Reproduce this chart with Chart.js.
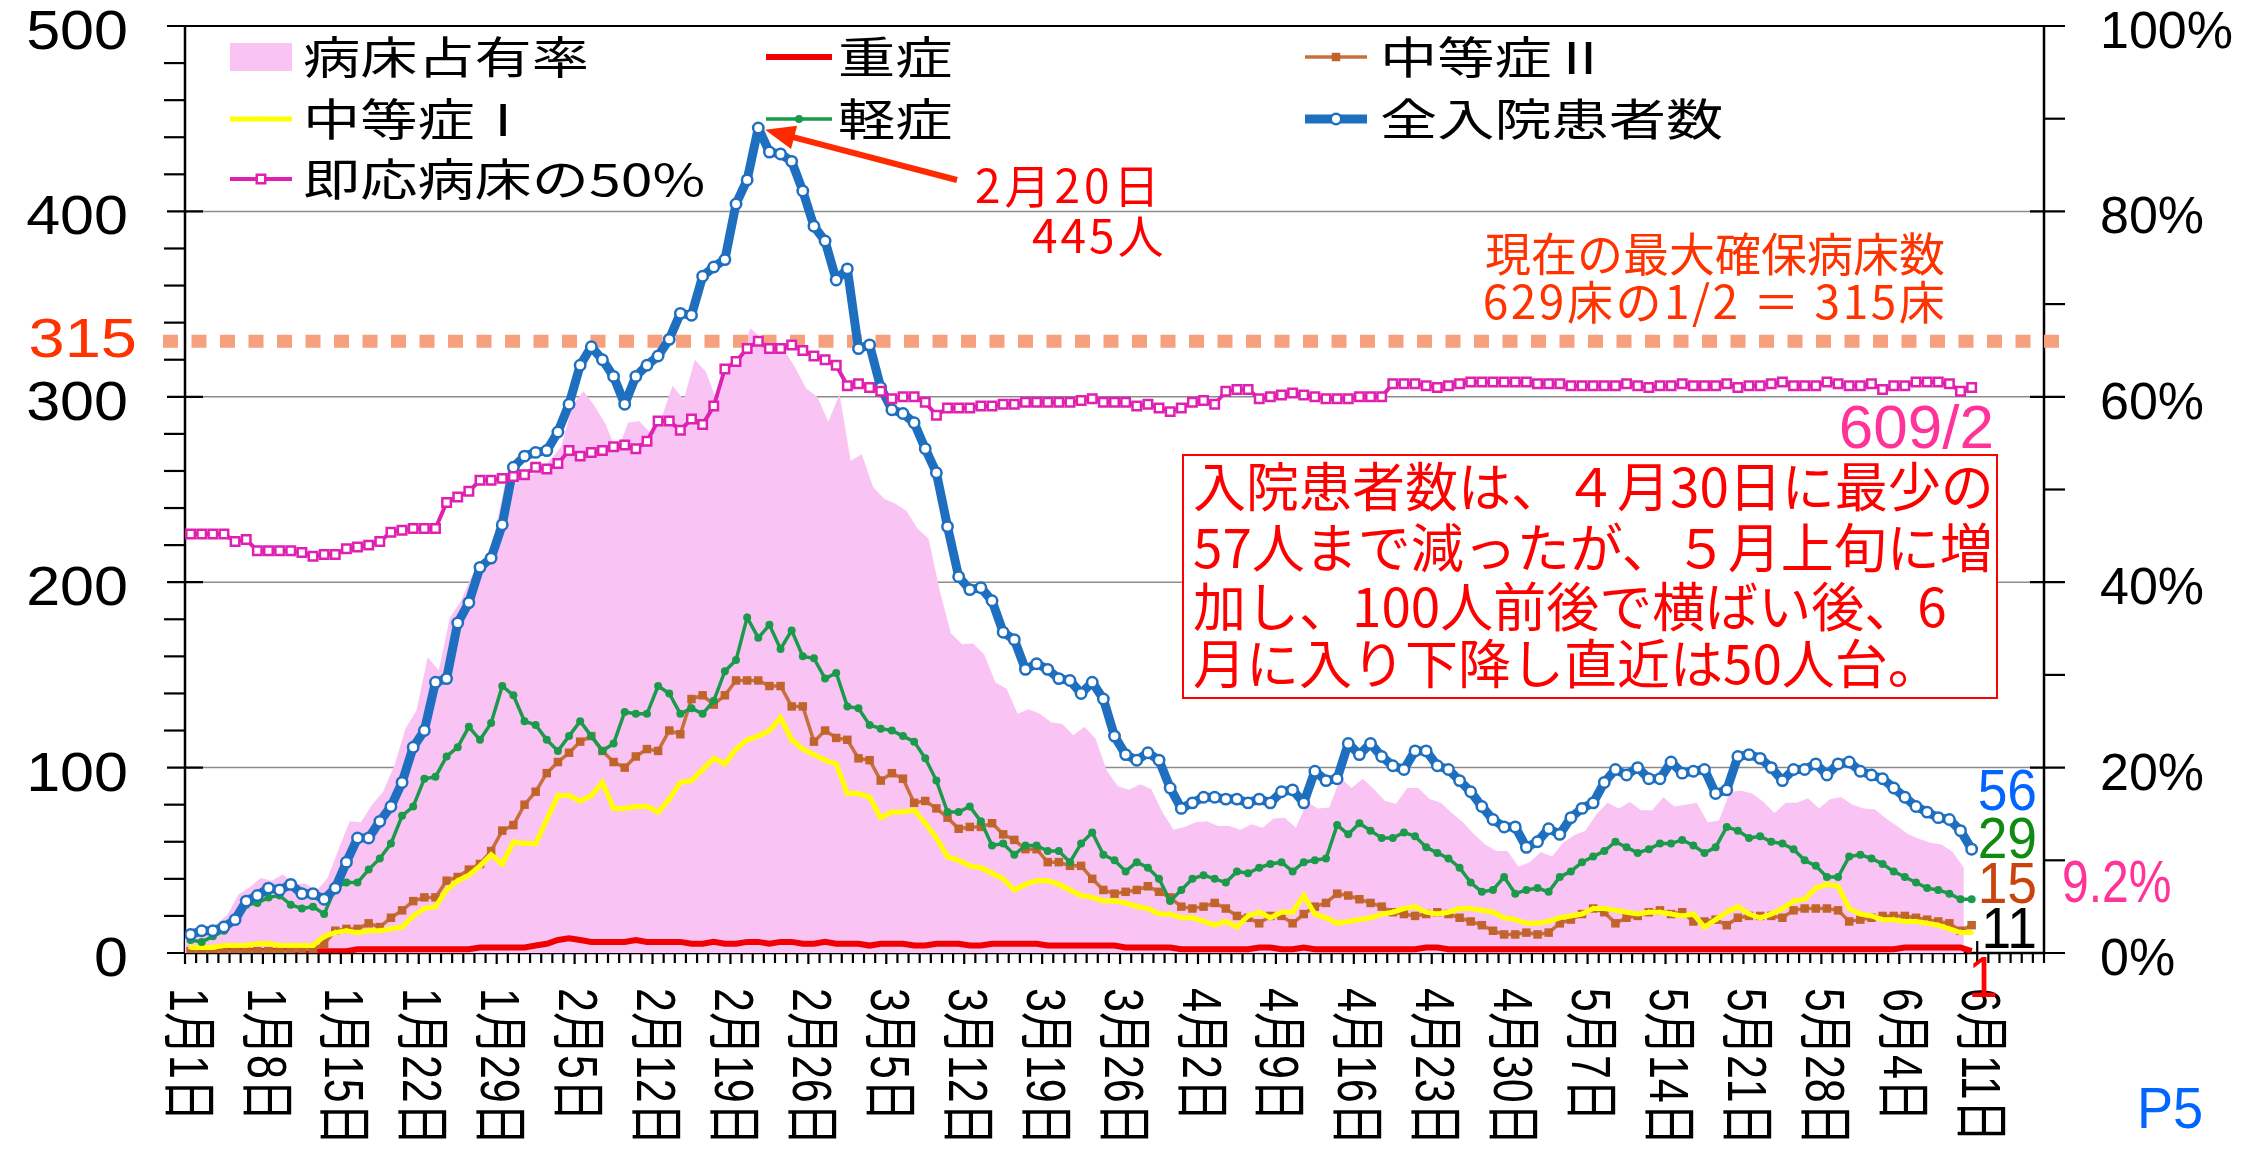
<!DOCTYPE html>
<html>
<head>
<meta charset="utf-8">
<script src="https://cdn.jsdelivr.net/npm/chart.js@4.4.1/dist/chart.umd.min.js"></script>
<style>
  html, body { margin: 0; padding: 0; background: #fff; }
  canvas { display: block; }
</style>
</head>
<body>
<canvas id="chart" width="2241" height="1154"></canvas>
<script>
// Hospitalisation chart, Jan 1 - Jun 11 (one value per day)

const tickLabels = ['1月1日', '1月8日', '1月15日', '1月22日', '1月29日', '2月5日', '2月12日', '2月19日',
  '2月26日', '3月5日', '3月12日', '3月19日', '3月26日', '4月2日', '4月9日', '4月16日', '4月23日',
  '4月30日', '5月7日', '5月14日', '5月21日', '5月28日', '6月4日', '6月11日'];

const seriesNames = ['病床占有率', '重症', '中等症Ⅱ', '中等症Ⅰ', '軽症', '全入院患者数', '即応病床の50%'];

// 病床占有率 (%), right axis
const occupancy = [
  2.2, 2.7, 2.7, 3.1, 4.1, 6.3, 7.1, 8.1, 7.8, 8.5,
  7.4, 7.5, 6.7, 8.1, 11.2, 14.2, 14.1, 16.0, 17.4, 20.2,
  24.2, 26.2, 31.9, 30.5, 36.2, 38.0, 40.8, 41.8, 45.1, 51.0,
  51.9, 51.5, 51.9, 53.2, 54.6, 59.1, 60.6, 59.0, 57.0, 54.0,
  57.2, 57.4, 56.1, 57.7, 61.2, 59.7, 64.0, 62.7, 59.4, 63.3,
  64.0, 67.4, 66.3, 66.1, 65.1, 63.2, 60.9, 60.0, 57.3, 60.3,
  53.1, 53.8, 50.3, 49.0, 48.5, 47.7, 45.8, 44.7, 39.1, 34.5,
  33.3, 33.4, 32.2, 29.2, 28.5, 25.8, 26.3, 25.8, 24.9, 24.7,
  23.5, 24.4, 23.1, 19.7, 18.0, 17.6, 18.2, 17.7, 15.2, 13.3,
  13.6, 14.1, 14.2, 13.7, 13.7, 13.3, 13.9, 13.5, 14.5, 14.6,
  13.5, 16.3, 15.6, 15.7, 18.9, 17.8, 18.8, 17.7, 16.4, 16.1,
  17.8, 17.8, 16.6, 16.2, 15.1, 14.1, 12.8, 11.7, 11.0, 11.0,
  9.3, 9.8, 10.9, 10.4, 11.9, 12.7, 13.2, 15.0, 16.2, 15.6,
  16.3, 15.4, 15.4, 16.8, 15.8, 16.0, 16.2, 14.1, 14.3, 17.4,
  17.5, 17.2, 16.3, 15.1, 16.2, 16.2, 16.7, 15.6, 16.6, 16.8,
  16.0, 15.6, 15.5, 14.5, 13.7, 12.8, 12.3, 11.9, 11.7, 10.9,
  9.2];

// 重症
const severe = [
  1, 1, 1, 1, 1, 1, 1, 1, 1, 1,
  1, 1, 1, 1, 1, 2, 2, 2, 2, 2,
  2, 2, 2, 2, 2, 2, 3, 3, 3, 3,
  3, 4, 5, 7, 8, 7, 6, 6, 6, 6,
  7, 6, 6, 6, 6, 5, 5, 6, 5, 5,
  6, 6, 5, 6, 6, 5, 5, 6, 5, 5,
  5, 4, 5, 5, 5, 4, 4, 5, 5, 5,
  4, 4, 5, 5, 5, 5, 5, 4, 4, 4,
  4, 4, 4, 4, 3, 3, 3, 3, 3, 2,
  2, 2, 2, 2, 2, 2, 3, 3, 2, 2,
  3, 2, 2, 2, 2, 2, 2, 2, 2, 2,
  2, 3, 3, 2, 2, 2, 2, 2, 2, 2,
  2, 2, 2, 2, 2, 2, 2, 2, 2, 2,
  2, 2, 2, 2, 2, 2, 2, 2, 2, 2,
  2, 2, 2, 2, 2, 2, 2, 2, 2, 2,
  2, 2, 2, 2, 3, 3, 3, 3, 3, 3,
  1];

// 中等症Ⅱ
const moderate2 = [
  1, 1, 1, 1, 1, 1, 1, 1, 1, 1,
  2, 2, 5, 12, 13, 13, 16, 14, 19, 23,
  28, 30, 30, 39, 41, 45, 48, 55, 66, 69,
  80, 87, 97, 103, 108, 114, 117, 109, 103, 100,
  106, 110, 109, 120, 118, 137, 139, 134, 139, 147,
  147, 147, 144, 144, 133, 133, 114, 120, 116, 115,
  105, 104, 93, 97, 94, 81, 82, 78, 73, 67,
  68, 68, 70, 64, 61, 56, 56, 49, 49, 47,
  47, 40, 34, 32, 33, 34, 36, 33, 30, 25,
  24, 25, 27, 24, 20, 19, 16, 20, 20, 16,
  21, 25, 27, 32, 31, 29, 27, 25, 22, 21,
  20, 21, 22, 21, 19, 17, 15, 12, 10, 10,
  11, 10, 11, 16, 18, 21, 24, 22, 16, 19,
  20, 22, 23, 21, 22, 17, 17, 18, 15, 19,
  20, 20, 20, 19, 23, 24, 24, 24, 23, 17,
  18, 19, 20, 20, 20, 19, 18, 17, 16, 12,
  15];

// 中等症Ⅰ
const moderate1 = [
  3, 3, 3, 4, 4, 4, 5, 5, 4, 4,
  4, 4, 9, 11, 12, 11, 12, 12, 13, 14,
  20, 24, 25, 34, 39, 42, 47, 53, 48, 60,
  59, 59, 72, 85, 85, 82, 85, 92, 78, 78,
  79, 79, 76, 83, 92, 93, 99, 105, 102, 110,
  115, 117, 120, 127, 115, 110, 107, 104, 102, 86,
  86, 84, 73, 76, 76, 77, 70, 62, 52, 50,
  47, 46, 43, 40, 34, 37, 39, 39, 37, 34,
  31, 30, 28, 28, 27, 25, 24, 21, 21, 19,
  19, 17, 15, 17, 14, 20, 22, 19, 22, 22,
  31, 21, 19, 16, 17, 18, 19, 21, 22, 24,
  25, 22, 21, 22, 24, 24, 23, 22, 19, 18,
  16, 16, 17, 19, 20, 21, 24, 24, 23, 22,
  21, 22, 22, 21, 20, 21, 14, 18, 22, 25,
  21, 19, 21, 24, 28, 29, 35, 37, 36, 24,
  21, 20, 18, 18, 17, 17, 16, 15, 13, 11,
  11];

// 軽症
const mild = [
  7, 6, 9, 12, 18, 26, 27, 30, 31, 26,
  24, 25, 21, 35, 38, 38, 45, 51, 59, 74,
  79, 94, 95, 106, 111, 122, 115, 124, 144, 139,
  125, 123, 115, 109, 117, 125, 117, 109, 113, 130,
  129, 129, 144, 140, 129, 132, 129, 136, 152, 158,
  181, 170, 177, 164, 174, 160, 159, 148, 151, 133,
  132, 123, 121, 120, 117, 114, 105, 93, 76, 76,
  79, 71, 58, 59, 53, 58, 58, 55, 55, 49,
  59, 65, 53, 50, 44, 49, 46, 40, 28, 34,
  40, 42, 40, 38, 44, 43, 46, 48, 49, 44,
  49, 50, 51, 69, 64, 70, 66, 62, 62, 65,
  63, 57, 54, 51, 46, 38, 33, 34, 41, 32,
  34, 35, 33, 41, 44, 49, 52, 55, 60, 57,
  54, 56, 59, 59, 61, 58, 54, 57, 68, 66,
  62, 63, 60, 59, 56, 50, 47, 41, 41, 52,
  53, 51, 48, 44, 41, 38, 35, 34, 32, 29,
  29];

// 全入院患者数
const total = [
  10, 12, 12, 14, 18, 28, 31, 35, 34, 37,
  32, 32, 29, 35, 49, 62, 62, 71, 79, 92,
  111, 120, 146, 148, 178, 189, 208, 213, 231, 262,
  268, 270, 271, 281, 296, 317, 327, 320, 311, 296,
  311, 317, 322, 331, 345, 344, 365, 370, 374, 404,
  417, 445, 432, 431, 427, 411, 392, 384, 363, 369,
  326, 328, 305, 293, 291, 286, 272, 259, 230, 203,
  196, 197, 190, 173, 169, 153, 156, 153, 148, 147,
  140, 146, 137, 117, 107, 104, 108, 104, 89, 78,
  81, 84, 84, 83, 83, 81, 83, 81, 87, 88,
  81, 98, 93, 94, 113, 107, 113, 106, 101, 99,
  109, 109, 101, 99, 93, 87, 79, 72, 68, 68,
  57, 60, 67, 64, 73, 78, 81, 92, 99, 96,
  100, 94, 94, 103, 97, 98, 99, 86, 88, 106,
  107, 105, 100, 93, 99, 99, 102, 96, 102, 103,
  98, 96, 94, 89, 84, 79, 76, 73, 72, 66,
  56];

// 即応病床の50%
const readyHalf = [
  226, 226, 226, 226, 222, 223, 217, 217, 217, 217,
  216, 214, 215, 215, 218, 219, 220, 222, 227, 228,
  229, 229, 229, 243, 246, 249, 255, 255, 256, 257,
  258, 262, 261, 264, 271, 268, 270, 271, 273, 274,
  272, 276, 287, 287, 282, 288, 285, 295, 315, 319,
  326, 330, 326, 326, 328, 325, 322, 320, 317, 306,
  307, 305, 303, 299, 300, 300, 297, 290, 294, 294,
  294, 295, 295, 296, 296, 297, 297, 297, 297, 297,
  298, 299, 297, 297, 297, 295, 296, 294, 292, 294,
  297, 298, 296, 303, 304, 304, 299, 300, 301, 302,
  301, 300, 299, 299, 299, 300, 300, 300, 307, 307,
  307, 306, 305, 306, 307, 308, 308, 308, 308, 308,
  308, 307, 307, 307, 306, 306, 306, 306, 306, 307,
  306, 305, 306, 306, 307, 306, 306, 306, 307, 305,
  306, 306, 307, 308, 306, 306, 306, 308, 307, 306,
  306, 307, 304, 306, 306, 308, 308, 308, 307, 303,
  305];

// the dotted "315" line sits at about 330 on the left scale in the source
const capLineValue = 330;

const JP = "'Noto Sans CJK JP', sans-serif";
const EN = "'Liberation Sans', Arial, sans-serif";
const MIX = "'Liberation Sans', 'Noto Sans CJK JP', sans-serif";

const pts = (arr, shift) => arr.map((v, i) => ({ x: i + (shift || 0), y: v }));

function text(ctx, s, x, y, o) {
  ctx.save();
  ctx.translate(x, y);
  ctx.scale(o.sx || 1, 1);
  if (o.rot) ctx.rotate(o.rot);
  ctx.font = o.font;
  ctx.fillStyle = o.color || '#000';
  ctx.textAlign = o.align || 'left';
  ctx.textBaseline = o.base || 'middle';
  if (o.ls) ctx.letterSpacing = o.ls;
  ctx.fillText(s, 0, 0);
  ctx.restore();
}

function seg(ctx, x0, y0, x1, y1) {
  ctx.beginPath();
  ctx.moveTo(x0, y0);
  ctx.lineTo(x1, y1);
  ctx.stroke();
}

function marker(ctx, style, x, y, r, fill, stroke, bw) {
  ctx.beginPath();
  if (style === 'rect') {
    const s = r * Math.SQRT1_2;
    ctx.rect(x - s, y - s, 2 * s, 2 * s);
  } else if (style === 'triangle') {
    ctx.moveTo(x, y - r);
    ctx.lineTo(x + r * 0.866, y + r * 0.5);
    ctx.lineTo(x - r * 0.866, y + r * 0.5);
    ctx.closePath();
  } else {
    ctx.arc(x, y, r, 0, Math.PI * 2);
  }
  ctx.fillStyle = fill;
  ctx.fill();
  if (bw > 0) {
    ctx.lineWidth = bw;
    ctx.strokeStyle = stroke;
    ctx.stroke();
  }
}

const decor = {
  id: 'decor',
  beforeDatasetsDraw(chart) {
    const ctx = chart.ctx, a = chart.chartArea;
    const xs = chart.scales.x, ys = chart.scales.y, y1 = chart.scales.y1;
    ctx.save();
    // gridlines
    ctx.strokeStyle = '#8c8c8c';
    ctx.lineWidth = 1.5;
    for (let v = 100; v < 500; v += 100) {
      const y = ys.getPixelForValue(v);
      seg(ctx, a.left, y, a.right, y);
    }
    // frame
    ctx.strokeStyle = '#000';
    ctx.lineWidth = 2;
    seg(ctx, a.left, a.top, a.right, a.top);
    ctx.lineWidth = 2.5;
    seg(ctx, a.left, a.top, a.left, a.bottom);
    seg(ctx, a.right, a.top, a.right, a.bottom);
    seg(ctx, a.left - 1, a.bottom, a.right + 1, a.bottom);
    // left ticks
    ctx.lineWidth = 2.2;
    for (let v = 0; v <= 500; v += 20) {
      const y = ys.getPixelForValue(v);
      if (v % 100 === 0) seg(ctx, a.left - 18, y, a.left + 18, y);
      else seg(ctx, a.left - 21, y, a.left, y);
    }
    // right ticks
    for (let p = 0; p <= 100; p += 10) {
      const y = y1.getPixelForValue(p);
      if (p % 20 === 0) seg(ctx, a.right - 14, y, a.right + 21, y);
      else seg(ctx, a.right, y, a.right + 21, y);
    }
    // x ticks, one per day, longer every week
    for (let k = 0; k <= 167; k++) {
      const x = xs.getPixelForValue(k - 0.5);
      if (k % 7 === 0 && k / 7 < tickLabels.length) seg(ctx, x, a.bottom - 12, x, a.bottom + 11);
      else seg(ctx, x, a.bottom, x, a.bottom + 10);
    }
    ctx.restore();
  },
  afterDatasetDraw(chart, args) {
    if (args.index !== 0) return;
    const ctx = chart.ctx;
    const y = chart.scales.y.getPixelForValue(capLineValue);
    ctx.save();
    ctx.strokeStyle = '#f7a07e';
    ctx.lineWidth = 13;
    ctx.setLineDash([15, 13.5]);
    seg(ctx, 163, y, 2066, y);
    ctx.restore();
  },
  afterDraw(chart) {
    const ctx = chart.ctx;
    const xs = chart.scales.x, ys = chart.scales.y, y1 = chart.scales.y1;

    // axis labels
    for (let v = 0; v <= 500; v += 100) {
      text(ctx, String(v), 128, ys.getPixelForValue(v) + 23, { font: `56px ${EN}`, align: 'right', base: 'alphabetic', sx: 1.09 });
    }
    for (let p = 0; p <= 100; p += 20) {
      text(ctx, p + '%', 2100, y1.getPixelForValue(p) + 22, { font: `52px ${EN}`, base: 'alphabetic' });
    }
    tickLabels.forEach((lab, k) => {
      const x = xs.getPixelForValue(k * 7 - 0.5);
      text(ctx, lab, x, 988, { font: `43px ${MIX}`, rot: Math.PI / 2, sx: 1.3 });
    });
    text(ctx, '315', 137, 357, { font: `56px ${EN}`, align: 'right', base: 'alphabetic', sx: 1.16, color: '#ff3300' });

    // legend
    const ds = chart.data.datasets;
    const rows = [57, 119, 179];
    const cols = [[230, 292, 303], [766, 832, 838], [1305, 1367, 1380]];
    ds.forEach((d, i) => {
      const row = rows[Math.floor(i / 3)], col = cols[i % 3];
      ctx.save();
      if (d.fill) {
        ctx.fillStyle = d.backgroundColor;
        ctx.fillRect(col[0], row - 14, col[1] - col[0], 28);
      } else {
        ctx.strokeStyle = d.borderColor;
        ctx.lineWidth = d.borderWidth;
        seg(ctx, col[0], row, col[1], row);
        if (d.pointRadius > 0) {
          marker(ctx, d.pointStyle, (col[0] + col[1]) / 2, row, d.pointRadius,
            d.pointBackgroundColor, d.pointBorderColor, d.pointBorderWidth);
        }
      }
      ctx.restore();
      text(ctx, d.label, col[2], row, { font: `44px ${JP}`, sx: 1.3 });
    });

    // peak arrow
    const peak = total.indexOf(Math.max(...total));
    const px = xs.getPixelForValue(peak), py = ys.getPixelForValue(total[peak]);
    const sx0 = 957, sy0 = 180;
    const ang = Math.atan2(py - sy0, px - sx0);
    const cs = Math.cos(ang), sn = Math.sin(ang);
    const tx = px - cs * 7, ty = py - sn * 7;
    ctx.save();
    ctx.strokeStyle = '#ff2a00';
    ctx.fillStyle = '#ff2a00';
    ctx.lineWidth = 6;
    seg(ctx, sx0, sy0, tx - cs * 20, ty - sn * 20);
    ctx.beginPath();
    ctx.moveTo(tx, ty);
    ctx.lineTo(tx - cs * 30 - sn * 12, ty - sn * 30 + cs * 12);
    ctx.lineTo(tx - cs * 30 + sn * 12, ty - sn * 30 - cs * 12);
    ctx.closePath();
    ctx.fill();
    ctx.restore();
    text(ctx, '2月20日', 975, 186, { font: `46px ${JP}`, color: '#ff0000', ls: '4px' });
    text(ctx, '445人', 1032, 236, { font: `46px ${JP}`, color: '#ff0000', ls: '3px' });

    // bed capacity note
    text(ctx, '現在の最大確保病床数', 1715, 254, { font: `46px ${JP}`, color: '#ff3300', align: 'center' });
    text(ctx, '629床の1/2 ＝ 315床', 1715, 302, { font: `46px ${JP}`, color: '#ff3300', align: 'center', ls: '2.5px' });

    // comment box
    ctx.save();
    ctx.fillStyle = '#fff';
    ctx.fillRect(1183, 455, 814, 243);
    ctx.strokeStyle = '#ff0000';
    ctx.lineWidth = 2;
    ctx.strokeRect(1183, 455, 814, 243);
    ctx.restore();
    const lines = ['入院患者数は、４月30日に最少の', '57人まで減ったが、５月上旬に増',
      '加し、100人前後で横ばい後、6', '月に入り下降し直近は50人台。'];
    [487, 548, 607, 664].forEach((y, i) => text(ctx, lines[i], 1193, y, { font: `53px ${JP}`, color: '#ff0000' }));

    // latest values
    text(ctx, '609/2', 1994, 448, { font: `62px ${EN}`, color: '#ff3399', align: 'right', base: 'alphabetic' });
    const last = total.length - 1;
    text(ctx, String(total[last]), 2037, 810, { font: `58px ${EN}`, color: '#0066ff', align: 'right', base: 'alphabetic', sx: 0.92 });
    text(ctx, String(mild[last]), 2037, 858, { font: `58px ${EN}`, color: '#118a11', align: 'right', base: 'alphabetic', sx: 0.92 });
    text(ctx, String(moderate2[last]), 2037, 903, { font: `58px ${EN}`, color: '#c8440c', align: 'right', base: 'alphabetic', sx: 0.92 });
    text(ctx, String(moderate1[last]), 2037, 948, { font: `58px ${EN}`, color: '#000', align: 'right', base: 'alphabetic', sx: 0.92 });
    text(ctx, occupancy[last] + '%', 2062, 902, { font: `60px ${EN}`, color: '#ff3399', base: 'alphabetic', sx: 0.8 });
    text(ctx, String(severe[last]), 1998, 997, { font: `58px ${EN}`, color: '#ff0000', align: 'right', base: 'alphabetic', sx: 0.92 });
    text(ctx, 'P5', 2137, 1128, { font: `57px ${EN}`, color: '#0066ff', base: 'alphabetic', sx: 0.95 });
  }
};

new Chart(document.getElementById('chart'), {
  type: 'line',
  data: {
    datasets: [
      { label: seriesNames[0], data: pts(occupancy, -0.7), yAxisID: 'y1', fill: 'origin',
        backgroundColor: '#f9c4f3', borderWidth: 0, pointRadius: 0, order: 10 },
      { label: seriesNames[1], data: pts(severe), yAxisID: 'y', borderColor: '#f00000',
        borderWidth: 6, pointRadius: 0, order: 6 },
      { label: seriesNames[2], data: pts(moderate2), yAxisID: 'y', borderColor: '#c8703c',
        borderWidth: 3.5, pointStyle: 'rect', pointRadius: 6, pointBackgroundColor: '#c0642c',
        pointBorderColor: '#c0642c', pointBorderWidth: 0, order: 5 },
      { label: seriesNames[3], data: pts(moderate1), yAxisID: 'y', borderColor: '#ffff00',
        borderWidth: 5, pointStyle: 'triangle', pointRadius: 3.5, pointBackgroundColor: '#ffff00',
        pointBorderColor: '#ffff00', pointBorderWidth: 0, order: 4 },
      { label: seriesNames[4], data: pts(mild), yAxisID: 'y', borderColor: '#1a9a4a',
        borderWidth: 3.5, pointStyle: 'circle', pointRadius: 4, pointBackgroundColor: '#1a9a4a',
        pointBorderColor: '#1a9a4a', pointBorderWidth: 0, order: 3 },
      { label: seriesNames[5], data: pts(total), yAxisID: 'y', borderColor: '#1f6fc0',
        borderWidth: 9, borderJoinStyle: 'round', pointStyle: 'circle', pointRadius: 5.2,
        pointBackgroundColor: '#fff', pointBorderColor: '#1f6fc0', pointBorderWidth: 2.5, order: 2 },
      { label: seriesNames[6], data: pts(readyHalf), yAxisID: 'y', borderColor: '#e020b0',
        borderWidth: 4, pointStyle: 'rect', pointRadius: 6, pointBackgroundColor: '#fff',
        pointBorderColor: '#e020b0', pointBorderWidth: 2.5, order: 1 }
    ]
  },
  options: {
    responsive: false,
    animation: false,
    devicePixelRatio: 1,
    layout: { padding: { left: 185, right: 197, top: 26, bottom: 201 } },
    scales: {
      x: { type: 'linear', min: -0.5, max: 166.5, display: false },
      y: { min: 0, max: 500, display: false },
      y1: { min: 0, max: 100, display: false, position: 'right' }
    },
    plugins: { legend: { display: false }, tooltip: { enabled: false } }
  },
  plugins: [decor]
});
</script>
</body>
</html>
